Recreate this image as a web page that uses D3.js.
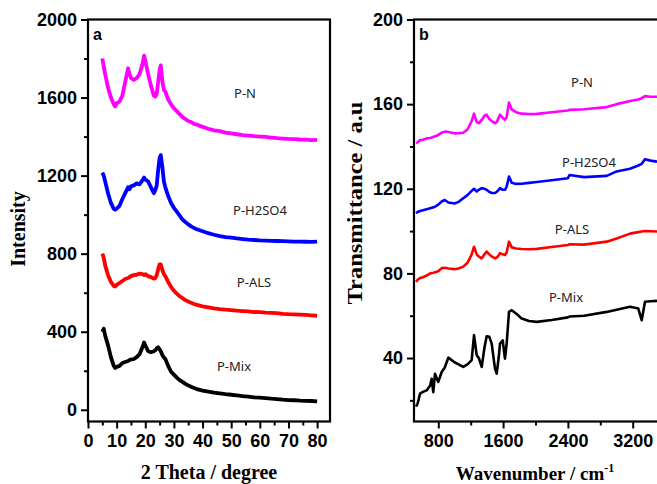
<!DOCTYPE html>
<html><head><meta charset="utf-8">
<script src="https://cdn.jsdelivr.net/npm/d3@7"></script>
<style>
html,body{margin:0;padding:0;background:#fff;}
svg{display:block;}
.tick text{font-family:"Liberation Sans",Arial,sans-serif;font-weight:bold;font-size:18px;fill:#000;}
</style></head>
<body><svg id="c" width="657" height="484"></svg>
<script>
// ---- Panel a: XRD ----
const theta = [5,5.5,6,7,8,9,9.5,10,11,12,13,14,14.5,15,16,17,18,19,19.6,20,21,22,23,23.5,24,24.5,25,25.4,26,26.5,27,28,29,30,31,32,33,34,35,36,37,38,39,40,42,44,46,48,50,52,54,56,58,60,62,64,66,68,70,72,74,76,78,80];
const xrdPN = [1800,1760,1720,1650,1600,1565,1555,1570,1580,1610,1680,1750,1720,1700,1690,1700,1720,1770,1815,1790,1720,1660,1610,1605,1620,1680,1740,1765,1680,1640,1630,1590,1565,1545,1530,1515,1500,1490,1480,1475,1465,1462,1455,1450,1440,1432,1428,1420,1416,1412,1408,1405,1402,1400,1398,1395,1392,1390,1388,1387,1385,1384,1382,1383];
const xrdPH = [1215,1200,1170,1110,1060,1030,1025,1030,1045,1080,1110,1140,1130,1145,1150,1160,1155,1175,1190,1180,1170,1140,1110,1125,1150,1230,1290,1305,1240,1170,1140,1095,1060,1035,1015,995,975,962,950,940,932,925,920,915,905,897,890,885,882,878,875,872,870,868,867,866,865,864,863,862,862,861,860,862];
const xrdPA = [800,780,740,690,655,635,632,640,650,660,670,675,680,685,690,692,698,695,690,695,685,680,672,675,690,720,745,745,715,695,685,655,630,610,595,582,572,562,555,548,542,538,534,530,525,520,516,513,511,508,506,504,501,500,498,497,495,492,490,489,488,486,484,482];
const xrdPM = [400,415,380,330,270,225,215,220,225,240,245,250,255,258,260,270,285,320,345,330,300,295,300,305,315,320,310,300,280,268,260,225,195,180,165,152,143,133,125,118,112,106,102,98,93,88,84,80,77,74,70,67,64,62,60,57,55,52,50,49,47,46,45,43];
const xrdTicks = [0,10,20,30,40,50,60,70,80];
const intTicks = [0,400,800,1200,1600,2000];

// ---- Panel b: FTIR ----
const wn = [525,545,575,610,656,700,718,738,759,780,800,842,880,924,1000,1050,1108,1160,1212,1241,1274,1300,1336,1370,1397,1430,1459,1500,1521,1545,1562,1595,1623,1644,1673,1706,1760,1829,1920,2015,2200,2400,2420,2600,2879,3002,3167,3269,3311,3352,3420,3500];
const irPN = [141.5,142.0,143.0,143.2,143.8,144.0,144.2,144.5,144.8,145.0,145.5,146.5,147.0,146.8,146.2,146.3,146.5,148.0,152.0,155.5,151.5,151.0,152.5,154.5,155.0,153.0,152.0,151.0,151.5,153.5,155.0,153.5,152.6,154.0,160.8,157.5,156.2,155.5,155.3,155.4,156.2,157.0,157.3,157.6,158.6,160.0,161.5,162.2,162.8,163.8,163.5,163.5];
const irPH = [108.4,109.0,109.5,109.8,110.3,110.8,111.0,111.2,111.5,112.0,112.5,114.0,114.7,113.5,113.0,113.8,115.5,117.0,119.0,120.0,118.7,119.5,120.3,120.0,119.5,118.5,118.0,118.0,118.5,119.5,120.3,119.5,119.5,121.0,125.8,122.8,122.3,122.4,122.8,123.2,124.0,125.0,126.5,125.5,126.1,128.2,129.5,131.0,131.8,134.0,133.3,132.8];
const irPA = [76.0,77.0,77.8,78.2,79.0,80.0,80.2,80.3,80.5,80.8,81.0,82.5,82.7,82.3,82.0,82.3,83.2,85.0,89.0,92.6,89.0,88.0,87.1,89.0,90.3,89.0,88.0,87.1,87.5,88.5,89.6,89.0,88.7,90.0,95.0,92.3,91.8,91.5,91.4,91.6,92.5,93.4,93.8,93.6,95.0,96.5,98.8,99.5,99.8,100.0,99.9,99.8];
const irPM = [17.0,18.5,23.2,24.0,24.7,27.0,30.2,23.9,32.6,30.5,28.7,33.4,35.5,40.2,38.0,37.0,35.8,37.0,39.0,50.8,41.3,40.0,35.8,45.0,50.3,50.0,46.8,35.0,32.6,40.0,46.8,48.4,39.7,46.8,61.8,62.6,61.0,58.7,57.5,57.1,58.0,59.2,59.6,60.0,61.8,62.8,64.2,63.4,57.9,66.6,66.8,67.0];
const wnTicks = [800,1600,2400,3200];
const trTicks = [40,80,120,160,200];

const names = ["P-N","P-H2SO4","P-ALS","P-Mix"];
const colors = ["#ff00ff","#0000ff","#ff0000","#000000"];

const svg = d3.select("#c");

function panel(opt){
  const g = svg.append("g");
  const x = d3.scaleLinear().domain(opt.xd).range(opt.xr);
  const y = d3.scaleLinear().domain(opt.yd).range([421.5,19.5]);
  const line = d3.line().x((d,i)=>x(opt.xs[i])).y(d=>y(d));
  opt.series.forEach((s,i)=>{
    g.append("path").datum(s).attr("d",line).attr("fill","none")
     .attr("stroke",colors[i]).attr("stroke-width",opt.sw).attr("stroke-linejoin","round");
  });
  g.append("rect").attr("x",opt.xr[0]).attr("y",19.5).attr("width",opt.frameW).attr("height",402)
   .attr("fill","none").attr("stroke","#000").attr("stroke-width",2.2);
  const ax = g.append("g").attr("transform",`translate(0,421.5)`)
    .call(d3.axisBottom(x).tickValues(opt.xt).tickSize(7).tickPadding(6).tickFormat(d3.format("d")));
  const axm = g.append("g").attr("transform",`translate(0,421.5)`)
    .call(d3.axisBottom(x).tickValues(opt.xMinor).tickSize(4).tickFormat(""));
  const ay = g.append("g").attr("transform",`translate(${opt.xr[0]},0)`)
    .call(d3.axisLeft(y).tickValues(opt.yt).tickSize(7).tickPadding(4).tickFormat(d3.format("d")));
  const aym = g.append("g").attr("transform",`translate(${opt.xr[0]},0)`)
    .call(d3.axisLeft(y).tickValues(opt.yMinor).tickSize(4).tickFormat(""));
  [ax,axm,ay,aym].forEach(a=>{a.select(".domain").remove();a.selectAll("line").attr("stroke","#000").attr("stroke-width",2);});
  opt.labels.forEach((l,i)=>{
    g.append("text").attr("x",l[0]).attr("y",l[1]).attr("text-anchor","middle")
     .attr("font-family","'Noto Sans','Open Sans',sans-serif").attr("font-size",13).attr("fill","#222").text(names[i]);
  });
  g.append("text").attr("x",opt.xr[0]+5).attr("y",40).attr("font-family","'Liberation Sans',Arial,sans-serif")
   .attr("font-weight","bold").attr("font-size",16).text(opt.tag);
  return {x,y};
}

panel({xd:[0,84.5], xr:[88,330], frameW:242, yd:[-60,2000], xs:theta,
  series:[xrdPN,xrdPH,xrdPA,xrdPM], sw:3.8,
  xt:xrdTicks, xMinor:[5,15,25,35,45,55,65,75], yt:intTicks, yMinor:[200,600,1000,1400,1800],
  labels:[[245,98],[260,215],[254,287],[234,371]], tag:"a"});

panel({xd:[500,3500], xr:[414,657], frameW:250, yd:[10,200], xs:wn,
  series:[irPN,irPH,irPA,irPM], sw:2.6,
  xt:wnTicks, xMinor:[1200,2000,2800], yt:trTicks, yMinor:[20,60,100,140,180],
  labels:[[582,87],[589,167],[572,234],[566,302]], tag:"b"});

const serif = "'Liberation Serif','Times New Roman',serif";
svg.append("text").attr("transform","translate(25,229) rotate(-90)").attr("text-anchor","middle")
  .attr("font-family",serif).attr("font-weight","bold").attr("font-size",20).text("Intensity");
svg.append("text").attr("x",209).attr("y",479).attr("text-anchor","middle")
  .attr("font-family",serif).attr("font-weight","bold").attr("font-size",20).text("2 Theta / degree");
svg.append("text").attr("transform","translate(362,203) rotate(-90)").attr("text-anchor","middle")
  .attr("font-family",serif).attr("font-weight","bold").attr("font-size",20)
  .attr("textLength",203).attr("lengthAdjust","spacingAndGlyphs").text("Transmittance / a.u");
const wt = svg.append("text").attr("x",535).attr("y",480).attr("text-anchor","middle")
  .attr("font-family",serif).attr("font-weight","bold").attr("font-size",19);
wt.append("tspan").text("Wavenumber / cm");
wt.append("tspan").attr("dy",-8).attr("font-size",12).text("-1");
</script></body></html>
